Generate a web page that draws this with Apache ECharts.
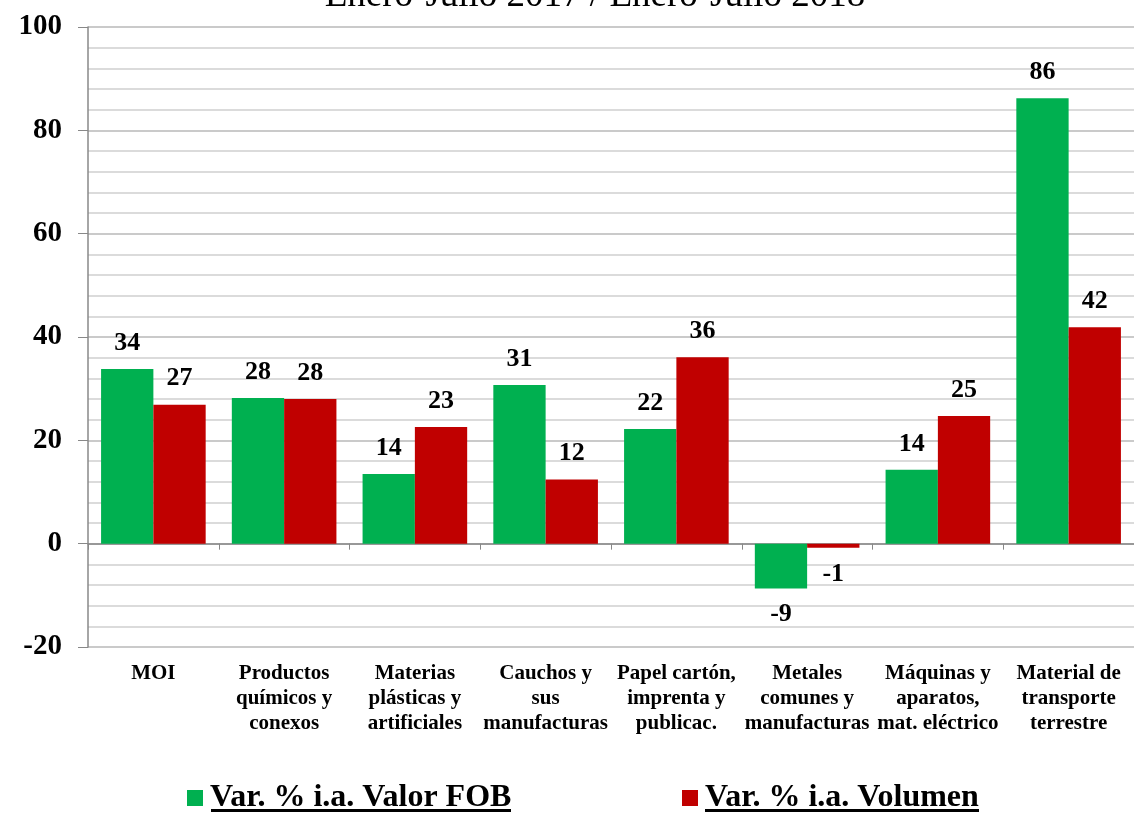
<!DOCTYPE html>
<html>
<head>
<meta charset="utf-8">
<script src="https://cdn.jsdelivr.net/npm/echarts@6/dist/echarts.min.js"></script>
<style>
  html, body { margin: 0; padding: 0; background: #fff; }
  #main { width: 1134px; height: 822px; }
</style>
</head>
<body>
<div id="main"></div>
<script>
var categories = [
  'MOI',
  'Productos\nquímicos y\nconexos',
  'Materias\nplásticas y\nartificiales',
  'Cauchos y\nsus\nmanufacturas',
  'Papel cartón,\nimprenta y\npublicac.',
  'Metales\ncomunes y\nmanufacturas',
  'Máquinas y\naparatos,\nmat. eléctrico',
  'Material de\ntransporte\nterrestre'
]
var valorFob = [33.8, 28.2, 13.5, 30.7, 22.2, -8.7, 14.3, 86.2]
var volumen = [26.9, 28.0, 22.6, 12.4, 36.1, -0.8, 24.7, 41.9]
var seriesNames = ['Var. % i.a. Valor FOB', 'Var. % i.a. Volumen']
var titleText = 'Enero-Julio 2017 / Enero-Julio 2018'

var myChart = echarts.init(document.getElementById('main'))
var serif = 'Liberation Serif, Times New Roman, serif'

// etiqueta arriba o abajo según el signo
function toData (arr) {
  return arr.map(function (v) {
    return { value: v, label: { position: v < 0 ? 'bottom' : 'top' } }
  })
}

var labelStyle = {
  show: true,
  distance: 13,
  fontFamily: serif,
  fontWeight: 'bold',
  fontSize: 26,
  color: '#000',
  formatter: function (p) { return Math.round(p.value) }
}

var legendText = { fontFamily: serif, fontWeight: 'bold', fontSize: 32, color: '#000', padding: [0, 0, 0, 2] }

var option = {
  backgroundColor: '#fff',
  animation: false,
  title: {
    text: titleText,
    left: 590,
    top: -27,
    textAlign: 'center',
    textStyle: { fontFamily: serif, fontWeight: 'normal', fontSize: 37, color: '#000' }
  },
  legend: [
    {
      left: 187, top: 782, padding: 0, itemWidth: 16, itemHeight: 16, icon: 'rect',
      textStyle: legendText, data: [seriesNames[0]]
    },
    {
      left: 682, top: 782, padding: 0, itemWidth: 16, itemHeight: 16, icon: 'rect',
      textStyle: legendText, data: [seriesNames[1]]
    }
  ],
  graphic: [
    { type: 'rect', left: 211, top: 809, shape: { width: 300, height: 3 }, style: { fill: '#000' } },
    { type: 'rect', left: 705, top: 809, shape: { width: 274, height: 3 }, style: { fill: '#000' } }
  ],
  grid: { left: 88, right: 0, top: 27, bottom: 175 },
  xAxis: [
    {
      type: 'category',
      data: categories,
      axisLine: { onZero: true, lineStyle: { color: '#888', width: 1.5 } },
      axisTick: { show: true, length: 6, lineStyle: { color: '#888' } },
      axisLabel: { show: false }
    },
    {
      type: 'category',
      data: categories,
      position: 'bottom',
      axisLine: { show: false },
      axisTick: { show: false },
      axisLabel: {
        margin: 14,
        interval: 0,
        fontFamily: serif,
        fontWeight: 'bold',
        fontSize: 21,
        lineHeight: 25,
        color: '#000'
      }
    }
  ],
  yAxis: {
    type: 'value',
    min: -20,
    max: 100,
    interval: 20,
    axisLine: { show: true, lineStyle: { color: '#888', width: 1.5 } },
    axisTick: { show: true, length: 10, lineStyle: { color: '#888' } },
    axisLabel: { margin: 26, fontFamily: serif, fontWeight: 'bold', fontSize: 29, color: '#000' },
    splitLine: { lineStyle: { color: '#b8b8b8', width: 1.5 } },
    minorTick: { show: false, splitNumber: 5 },
    minorSplitLine: { show: true, lineStyle: { color: '#d0d0d0', width: 1.5 } }
  },
  series: [
    {
      name: seriesNames[0],
      type: 'bar',
      barGap: '0%',
      barCategoryGap: '20%',
      itemStyle: { color: '#00B050' },
      label: labelStyle,
      data: toData(valorFob)
    },
    {
      name: seriesNames[1],
      type: 'bar',
      barGap: '0%',
      barCategoryGap: '20%',
      itemStyle: { color: '#C00000' },
      label: labelStyle,
      data: toData(volumen)
    }
  ]
}

myChart.setOption(option, true)
</script>
</body>
</html>
